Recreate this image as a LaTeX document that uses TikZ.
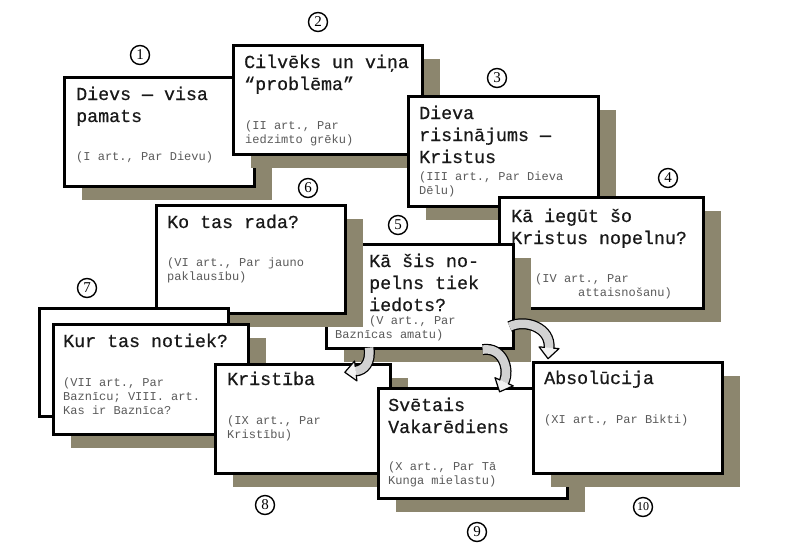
\documentclass[tikz,border=0pt]{standalone}
\usepackage{fontspec}
\newfontfamily\boxfont[FakeBold=0.6]{Liberation Mono}
\newfontfamily\notefont{Liberation Mono}
\newfontfamily\numfont{Liberation Serif}
\usepackage{tikz}
\usetikzlibrary{shadows, decorations.markings}
\definecolor{shadowc}{HTML}{8C866E}
\definecolor{notec}{HTML}{5A5A5A}

\begin{document}
\begin{tikzpicture}[x=1pt, y=-1pt,
  plain/.style={draw, line width=2.6pt, fill=white, anchor=north west, inner sep=0pt},
  card/.style={plain, drop shadow={shadow xshift=18pt, shadow yshift=-14pt, fill=shadowc, draw=none, opacity=1}},
  head/.style={anchor=base west, align=left, inner sep=0pt, text=black!90, font=\boxfont\fontsize{18.3}{22}\selectfont},
  note/.style={anchor=base west, align=left, inner sep=0pt, text=notec, font=\notefont\fontsize{12}{14}\selectfont},
  num/.style={circle, draw, line width=1.4pt, inner sep=0pt, minimum size=19pt, font=\numfont\fontsize{15}{15}\selectfont},
  fat/.style={line width=8.5pt, draw=gray!35, preaction={draw=black, line width=11pt},
    postaction={decorate, decoration={markings, mark=at position 0.995 with {
      \fill[gray!10] (0,-10pt) -- (11pt,0) -- (0,10pt) -- cycle;
      \draw[black, line width=1.2pt, line join=round] (0,-4.25pt) -- (0,-10pt) -- (11pt,0) -- (0,10pt) -- (0,4.25pt);}}}}]
\useasboundingbox (0,0) rectangle (800,552);

% teksti: y ir pēdējās rindas bāzlīnija
\node(b1)[card, minimum width=190pt, minimum height=109pt] at (63,76) {};
\node(t1)[head] at (76,122) {Dievs — visa\\pamats};
\node(s1)[note] at (76,160) {(I art., Par Dievu)};

\node(b2)[card, minimum width=189pt, minimum height=109pt] at (232,44) {};
\node(t2)[head] at (244,90) {Cilvēks un viņa\\“problēma”};
\node(s2)[note] at (245,143) {(II art., Par\\iedzimto grēku)};

\node(b3)[card, minimum width=190pt, minimum height=110pt] at (407,95) {};
\node(t3)[head] at (419,163) {Dieva\\risinājums —\\Kristus};
\node(s3)[note] at (419,194) {(III art., Par Dieva\\Dēlu)};

\node(b4)[card, minimum width=204pt, minimum height=111pt] at (498,196) {};
\node(t4)[head] at (511,244) {Kā iegūt šo\\Kristus nopelnu?};
\node(s4)[note] at (535,296) {(IV art., Par\\\hspace*{43pt}attaisnošanu)};

\node(b5)[card, minimum width=187pt, minimum height=104pt] at (325,243) {};
\node(t5)[head] at (369,311) {Kā šis no-\\pelns tiek\\iedots?};
\node(s5)[note] at (335,338) {\hspace*{34pt}(V art., Par\\Baznīcas amatu)};

\node(b6)[card, minimum width=189pt, minimum height=108pt] at (155,204) {};
\node(t6)[head] at (167,228) {Ko tas rada?};
\node(s6)[note] at (167,280) {(VI art., Par jauno\\paklausību)};

% divi rāmji
\node(b7a)[plain, minimum width=189pt, minimum height=108pt] at (38,307) {};
\node(b7)[card, minimum width=195pt, minimum height=110pt] at (52,323) {};
\node(t7)[head] at (63,347) {Kur tas notiek?};
\node(s7)[note] at (63,414) {(VII art., Par\\Baznīcu; VIII. art.\\Kas ir Baznīca?};

\node(b8)[card, minimum width=175pt, minimum height=109pt] at (214,363) {};
\node(t8)[head] at (227,385) {Kristība};
\node(s8)[note] at (227,438) {(IX art., Par\\Kristību)};

\node(b9)[card, minimum width=189pt, minimum height=110pt] at (377,387) {};
\node(t9)[head] at (388,433) {Svētais\\Vakarēdiens};
\node(s9)[note] at (388,484) {(X art., Par Tā\\Kunga mielastu)};

\node(b10)[card, minimum width=189pt, minimum height=111pt] at (532,361) {};
\node(t10)[head] at (544,384) {Absolūcija};
\node(s10)[note] at (544,423) {(XI art., Par Bikti)};

\node(n1)[num] at (140,55) {1};
\node(n2)[num] at (318,22) {2};
\node(n3)[num] at (497,78) {3};
\node(n4)[num] at (668,178) {4};
\node(n5)[num] at (398,225) {5};
\node(n6)[num] at (308,188) {6};
\node(n7)[num] at (87,288) {7};
\node(n8)[num] at (265,505) {8};
\node(n9)[num] at (477,532) {9};
\node(n10)[num, font=\numfont\fontsize{12}{12}\selectfont] at (643,507) {10};

\begin{scope}[line cap=butt]
\draw[fat] ([shift={(44,-2)}]b5.south west) .. controls +(2,15) and +(9,-1) .. ([shift={(-36,8)}]b8.north east);
\draw[fat] ([shift={(-32,0)}]b5.south east) .. controls +(20,-3) and +(6,-13) .. ([shift={(127,-5)}]b9.north west);
\draw[fat] ([shift={(-5,-23)}]b5.south east) .. controls +(16,-8) and +(2,-20) .. ([shift={(17,-13)}]b10.north west);
\end{scope}
\end{tikzpicture}
\end{document}
